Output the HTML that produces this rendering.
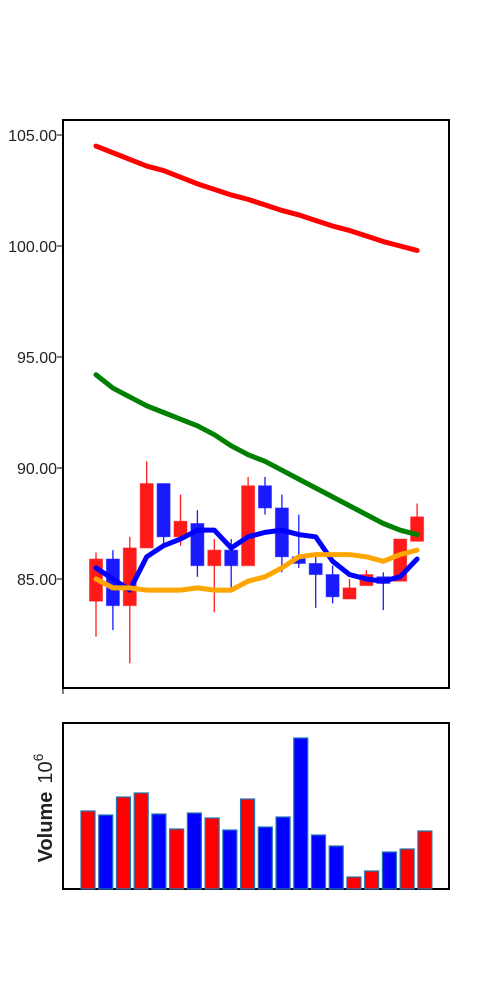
<!DOCTYPE html>
<html><head><meta charset="utf-8"><style>
body{margin:0;background:#fff;}
svg{display:block;font-family:"Liberation Sans","DejaVu Sans",sans-serif;}
</style></head><body>
<svg id="c" width="500" height="1000">
<rect x="63" y="120" width="386" height="568" fill="#fff" stroke="#000" stroke-width="2"/>
<g id="price"></g>
<rect x="63" y="723" width="386" height="166" fill="none" stroke="#000" stroke-width="2"/>
<g id="vol"></g>
<text transform="translate(52,808) rotate(-90)" text-anchor="middle" font-size="20" fill="#222"><tspan font-weight="bold">Volume</tspan><tspan dx="8">10</tspan><tspan dy="-9" font-size="14">6</tspan></text>
</svg>
<script>
const opens  = [84.0,85.9,83.8,86.4,89.3,86.9,87.5,85.6,86.3,85.6,89.2,88.2,86.0,85.7,85.2,84.1,84.7,85.1,84.9,86.7];
const closes = [85.9,83.8,86.4,89.3,86.9,87.6,85.6,86.3,85.6,89.2,88.2,86.0,85.7,85.2,84.2,84.6,85.2,84.8,86.8,87.8];
const highs  = [86.2,86.3,86.9,90.3,89.3,88.8,88.1,86.8,86.8,89.6,89.6,88.8,87.9,86.0,85.6,85.0,85.4,85.3,86.8,88.4];
const lows   = [82.4,82.7,81.2,86.4,86.6,86.5,85.1,83.5,84.6,85.6,87.9,85.3,85.5,83.7,83.9,84.1,84.7,83.6,84.9,86.7];
const maRed    = [104.5,104.2,103.9,103.6,103.4,103.1,102.8,102.55,102.3,102.1,101.85,101.6,101.4,101.15,100.9,100.7,100.45,100.2,100.0,99.8];
const maGreen  = [94.2,93.6,93.2,92.8,92.5,92.2,91.9,91.5,91.0,90.6,90.3,89.9,89.5,89.1,88.7,88.3,87.9,87.5,87.2,87.0];
const maBlue   = [85.5,85.0,84.5,86.0,86.5,86.8,87.2,87.2,86.4,86.9,87.1,87.2,87.0,86.9,85.8,85.2,85.0,84.9,85.1,85.9];
const maOrange = [85.0,84.6,84.6,84.5,84.5,84.5,84.6,84.5,84.5,84.9,85.1,85.5,86.0,86.1,86.1,86.1,86.0,85.8,86.1,86.3];
const volumes  = [78,74,92,96,75,60,76,71,59,90,62,72,151,54,43,12,18,37,40,58];
const yTicks = [85,90,95,100,105];
const yLabels = ["85.00","90.00","95.00","100.00","105.00"];
const NS="http://www.w3.org/2000/svg";
const P=document.getElementById('price'), V=document.getElementById('vol');
const xC=i=>96+i*16.9;
const yP=v=>579-(v-85)*22.2;
const xV=i=>88+i*17.73;
const yV=v=>889-v;
function mk(parent,tag,attrs){const e=document.createElementNS(NS,tag);for(const k in attrs)e.setAttribute(k,attrs[k]);parent.appendChild(e);return e;}
yTicks.forEach((t,i)=>{
  const l=mk(P,'line',{x1:57,x2:63,y1:yP(t),y2:yP(t),stroke:'#000','stroke-width':1});
  
  
  const tx=mk(P,'text',{x:57,y:yP(t)+6,'text-anchor':'end','font-size':16,fill:'#222'});
  tx.textContent=yLabels[i];
  
  
});
mk(P,'line',{x1:63,x2:63,y1:688,y2:694,stroke:'#000'});
opens.forEach((o,i)=>{
  const c=closes[i], col=c>o?'#ff1a1a':'#1a1aff';
  const w=mk(P,'line',{x1:xC(i),x2:xC(i),y1:yP(highs[i]),y2:yP(lows[i]),stroke:col,'stroke-width':1.3});
  
  
  const top=yP(Math.max(o,c)), bot=yP(Math.min(o,c));
  const r=mk(P,'rect',{x:xC(i)-6.5,y:top,width:13,height:Math.max(1,bot-top),fill:col,stroke:col,'stroke-opacity':0.5});
  
  
});
[[maRed,'#ff0000','ma-red-line'],[maGreen,'#008000','ma-green-line'],[maBlue,'#0000ff','ma-blue-line'],[maOrange,'#ffa500','ma-orange-line']].forEach(([arr,col,nm])=>{
  const p=mk(P,'polyline',{points:arr.map((v,i)=>xC(i)+','+yP(v)).join(' '),fill:'none',stroke:col,'stroke-width':5,'stroke-linejoin':'round','stroke-linecap':'round'});
  
  
});
volumes.forEach((v,i)=>{
  const col=closes[i]>opens[i]?'#ff0000':'#0000ff';
  const b=mk(V,'rect',{x:xV(i)-7,y:yV(v),width:14,height:v,fill:col,stroke:'#1f77b4','stroke-width':1.2});
  
  
});
</script>
</body></html>
